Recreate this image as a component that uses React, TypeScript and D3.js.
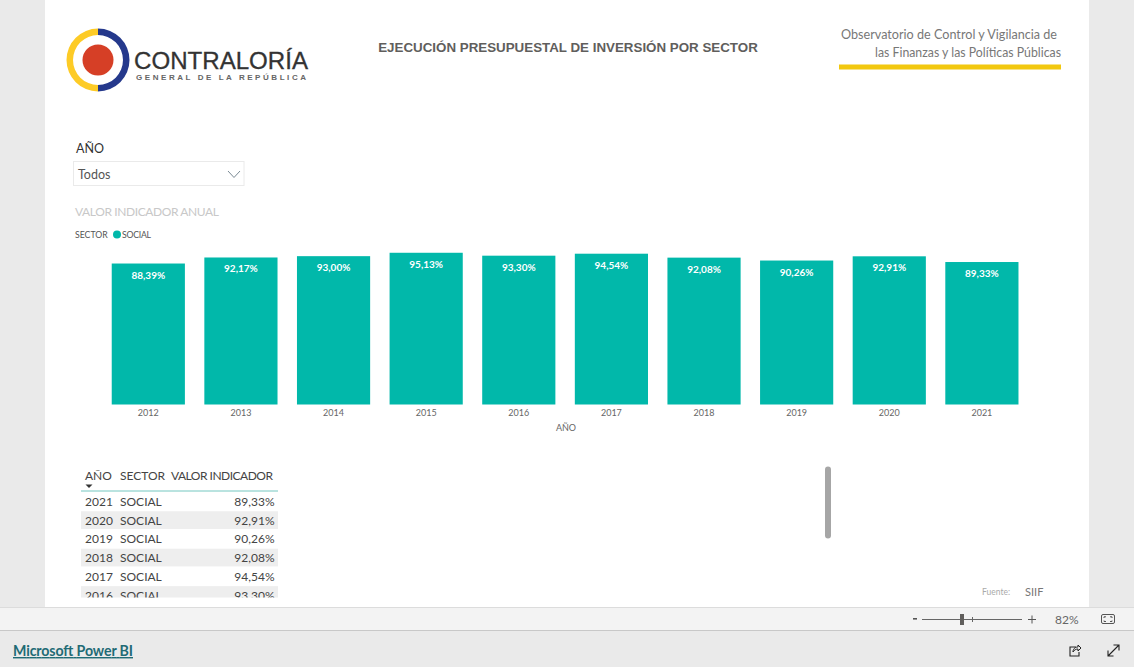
import React from "react";
import * as d3 from "d3";

const years = ["2012","2013","2014","2015","2016","2017","2018","2019","2020","2021"];
const values = [88.39,92.17,93.0,95.13,93.3,94.54,92.08,90.26,92.91,89.33];
const tableYears = ["2021","2020","2019","2018","2017","2016"];
const tableValues = [89.33,92.91,90.26,92.08,94.54,93.3];
const sector = "SOCIAL";

const font = "Lato, 'Open Sans', sans-serif";
const fmt = (v: number) => v.toFixed(2).replace(".", ",") + "%";

export default function App() {
  const x = d3.scaleBand<string>().domain(years).range([102, 1028.2]).paddingInner(0.21).paddingOuter(0.105);
  const y = d3.scaleLinear().domain([0, 100]).range([404.5, 245]);
  const rowY = d3.scaleBand<string>().domain(tableYears).range([492, 604.4]);
  return (
    <svg width={1134} height={667} style={{ position: "fixed", left: 0, top: 0, display: "block" }} fontFamily={font}>
      <rect width={1134} height={667} fill="#eaeaea" />
      <rect x={45} width={1044} height={607} fill="#fff" />
      <rect y={607} width={1134} height={23} fill="#f3f3f3" />
      <line x1={0} x2={1134} y1={607.5} y2={607.5} stroke="#dcdcdc" />
      <line x1={0} x2={1134} y1={630.5} y2={630.5} stroke="#c8c8c8" />

      {/* logo */}
      <path d="M98 28.5 A31.5 31.5 0 0 0 98 91.5 L98 85 A25 25 0 0 1 98 35 Z" fill="#fdcb26" />
      <path d="M98 28.5 A31.5 31.5 0 0 1 98 91.5 L98 85 A25 25 0 0 0 98 35 Z" fill="#25398c" />
      <circle cx={98} cy={60} r={15.5} fill="#d63f26" />
      <text x={134} y={69} fontFamily="'Liberation Sans', sans-serif" fontSize={24} fill="#333" stroke="#333" strokeWidth={0.3} textLength={174} lengthAdjust="spacingAndGlyphs">CONTRALORÍA</text>
      <text x={136} y={79.5} fontFamily="'Liberation Sans', sans-serif" fontSize={8} fontWeight={700} fill="#666" textLength={170}>GENERAL DE LA REPÚBLICA</text>

      <text x={568} y={52} textAnchor="middle" fontFamily="'Liberation Sans', sans-serif" fontWeight={700} fontSize={13.35} fill="#605e5c">EJECUCIÓN PRESUPUESTAL DE INVERSIÓN POR SECTOR</text>

      <text x={1057} y={39} textAnchor="end" fontSize={13.5} fill="#777" textLength={216} lengthAdjust="spacingAndGlyphs">Observatorio de Control y Vigilancia de</text>
      <text x={1061} y={57} textAnchor="end" fontSize={13.5} fill="#777" textLength={186} lengthAdjust="spacingAndGlyphs">las Finanzas y las Políticas Públicas</text>
      <rect x={839} y={64.5} width={222} height={5} fill="#f2c80f" />

      {/* slicer */}
      <text x={76} y={152.5} fontSize={12.5} fill="#333">AÑO</text>
      <rect x={73.5} y={161.5} width={170.5} height={24} fill="#fff" stroke="#eaeaea" />
      <text x={78} y={179} fontSize={12.5} fill="#555">Todos</text>
      <path d="M228 171 L234 177.5 L240 171" fill="none" stroke="#7a8a94" />

      {/* chart */}
      <text x={75} y={216} fontSize={12} fill="#c8c8c8" textLength={144}>VALOR INDICADOR ANUAL</text>
      <text x={75} y={238} fontSize={8.7} fill="#555">SECTOR</text>
      <circle cx={117} cy={234.5} r={4} fill="#01b8aa" />
      <text x={122} y={238} fontSize={8.7} fill="#555" textLength={29}>{sector}</text>

      {years.map((yr, i) => (
        <g key={yr}>
          <rect x={x(yr)} y={y(values[i])} width={x.bandwidth()} height={y(0) - y(values[i])} fill="#01b8aa" />
          <text x={x(yr)! + x.bandwidth() / 2} y={y(values[i]) + 15} textAnchor="middle" fontSize={10} fontWeight={700} fill="#fff">{fmt(values[i])}</text>
          <text x={x(yr)! + x.bandwidth() / 2} y={416} textAnchor="middle" fontSize={9} fill="#666">{yr}</text>
        </g>
      ))}
      <text x={566} y={431} textAnchor="middle" fontSize={9} fill="#666">AÑO</text>

      {/* table */}
      <defs>
        <clipPath id="tableClip"><rect x={81} y={460} width={198} height={137.5} /></clipPath>
      </defs>
      <g clipPath="url(#tableClip)">
        <text x={85} y={480} fontSize={12} fill="#444">AÑO</text>
        <text x={120} y={480} fontSize={12} fill="#444">SECTOR</text>
        <text x={171} y={480} fontSize={12} fill="#444" textLength={102}>VALOR INDICADOR</text>
        <path d="M85.5 484.5 L92.5 484.5 L89 488 Z" fill="#333" />
        <line x1={81} x2={278} y1={491} y2={491} stroke="#74c7c0" />
        {tableYears.map((yr, i) => (
          <g key={yr}>
            {i % 2 === 1 && <rect x={81} y={rowY(yr)! + 0.5} width={197} height={rowY.bandwidth() - 1} fill="#eeeeee" />}
            <text x={85} y={rowY(yr)! + 14} fontSize={12} fill="#444">{yr}</text>
            <text x={120} y={rowY(yr)! + 14} fontSize={12} fill="#444">{sector}</text>
            <text x={274.5} y={rowY(yr)! + 14} textAnchor="end" fontSize={12} fill="#444">{fmt(tableValues[i])}</text>
          </g>
        ))}
      </g>
      <rect x={825} y={466.5} width={6} height={72} rx={3} fill="#a6a6a6" />

      <text x={982} y={595} fontSize={8.5} fill="#aaa">Fuente:</text>
      <text x={1025} y={596} fontSize={11} fill="#777">SIIF</text>

      {/* footer */}
      <rect x={913} y={618} width={4} height={1.6} fill="#555" />
      <line x1={922} x2={1022} y1={619.5} y2={619.5} stroke="#666" />
      <line x1={972.5} x2={972.5} y1={617} y2={622} stroke="#666" />
      <rect x={960} y={614} width={4} height={11} fill="#605e5c" />
      <path d="M1032 615.5 V623.5 M1028 619.5 H1036" stroke="#555" fill="none" />
      <text x={1055} y={624} fontSize={12} fill="#666">82%</text>
      <rect x={1101.5} y={614.5} width={13} height={9} rx={1.5} fill="none" stroke="#555" />
      <path d="M1104 618 V616.8 H1106 M1112 618 V616.8 H1110 M1104 620.5 V621.5 H1106 M1112 620.5 V621.5 H1110" fill="none" stroke="#555" />

      <text x={13} y={656} fontSize={14.2} fill="#1f6b75" textDecoration="underline" fontWeight={700} textLength={120}>Microsoft Power BI</text>
      <path d="M1076 647 H1070 V656 H1079 V652" fill="none" stroke="#222" strokeWidth={1.1} />
      <path d="M1073 652 C1073 648 1076 647 1078 647 V645 L1081 648 L1078 651 V649 C1076 649 1074 650 1073 652 Z" fill="none" stroke="#222" strokeWidth={1} />
      <path d="M1108 656 L1119 645 M1113.5 645 H1119 V650.5 M1108 650.5 V656 H1113.5" fill="none" stroke="#222" strokeWidth={1.1} />
    </svg>
  );
}
